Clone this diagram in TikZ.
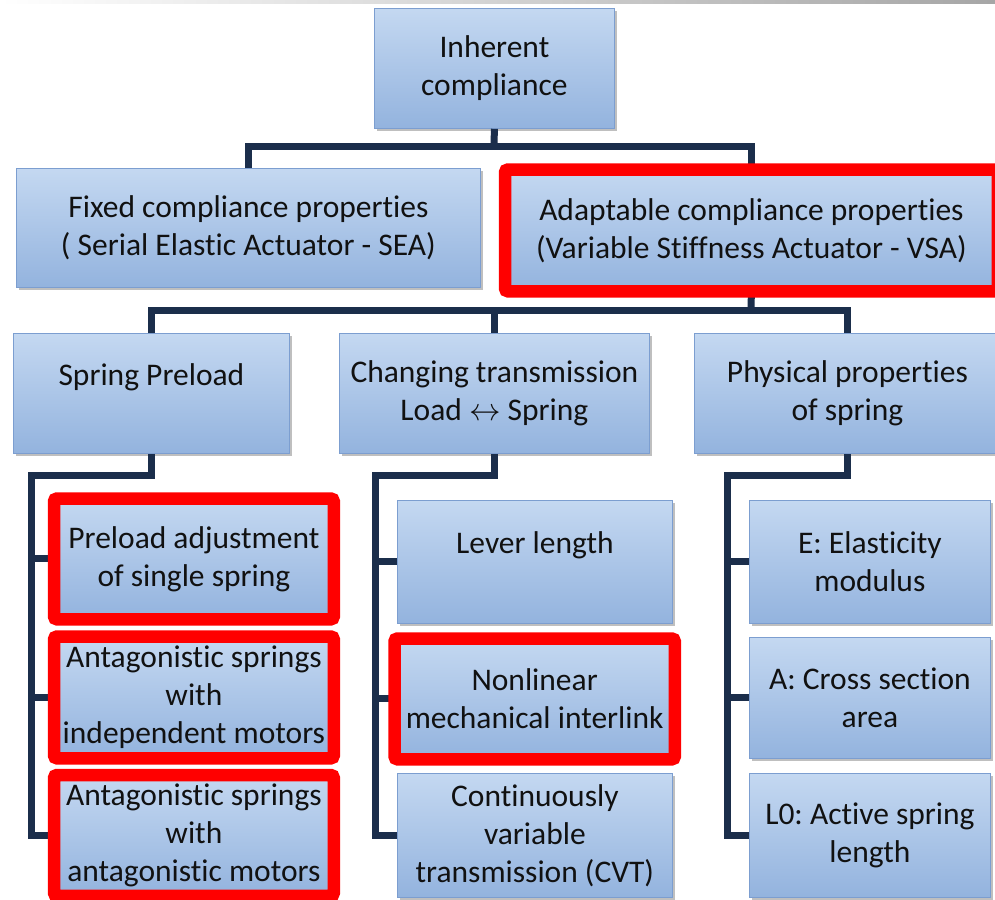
\RequirePackage{fix-cm}
\documentclass[tikz,border=0pt]{standalone}
\usepackage{fontspec}
\setmainfont[Ligatures={NoCommon,NoContextual}]{Carlito}
\usetikzlibrary{shadows,calc}
\frenchspacing
\definecolor{boxtop}{HTML}{C4D8F1}
\definecolor{boxbot}{HTML}{93B3DE}
\definecolor{boxline}{HTML}{7C9ED0}
\definecolor{connc}{HTML}{1B2E4B}
\definecolor{redc}{HTML}{FF0000}
\definecolor{txt}{HTML}{111111}
\tikzset{
  box/.style={draw=boxline, line width=0.8pt, top color=boxtop, bottom color=boxbot,
    drop shadow={shadow xshift=3pt, shadow yshift=-3pt, fill=black, opacity=0.25},
    align=center, text=txt, inner sep=0pt,
    font=\fontsize{31.5}{38}\selectfont},
  conn/.style={draw=connc, line width=7pt},
  redframe/.style={draw=redc, line width=12.5pt, rounded corners=3pt},
}
\newcommand{\mkbox}[6]{%
  \node[box, anchor=north west, minimum width=#3-#2, minimum height=#5-#4] (#1) at (#2,#4) {#6};}
\begin{document}
\begin{tikzpicture}[x=1pt,y=-1pt]
\useasboundingbox (0,0) rectangle (995,899);
\fill[white] (0,0) rectangle (995,899);
\shade[left color=white, right color=black!35] (0,0) rectangle (995,4);

% boxes
\mkbox{root}{374}{614}{8}{128}{Inherent\\compliance}
\mkbox{fixed}{16}{480}{168}{287}{Fixed compliance properties\\( Serial Elastic Actuator - SEA)}
\mkbox{adapt}{505}{997}{169.5}{290.5}{Adaptable compliance properties\\(Variable Stiffness Actuator - VSA)}

\mkbox{sp}{13}{289}{333}{453}{Spring Preload\\ ~}
\mkbox{cp}{339}{649}{333}{453}{Changing transmission\\Load $\leftrightarrow$ Spring}
\mkbox{phys}{694}{1000}{333}{453}{Physical properties\\of spring}

\mkbox{pa}{54}{333}{498.5}{618.5}{Preload adjustment\\of single spring}
\mkbox{ai}{54}{333}{636.5}{757.5}{Antagonistic springs\\with\\independent motors}
\mkbox{aa}{54}{333}{775}{895}{Antagonistic springs\\with\\antagonistic motors}

\mkbox{lever}{397}{672}{500}{623}{Lever length\\ ~}
\mkbox{nl}{394.5}{674}{638.5}{758.5}{Nonlinear\\mechanical interlink}
\mkbox{cvt}{397}{672}{773}{897}{Continuously\\variable\\transmission (CVT)}

\mkbox{ee}{749}{990}{500}{623}{E: Elasticity\\modulus}
\mkbox{area}{749}{990}{637}{758}{A: Cross section\\area}
\mkbox{lz}{749}{990}{773}{897}{L0: Active spring\\length}

% connectors
\coordinate (bar1) at (494,146);
\draw[conn] (root.south) -- (bar1);
\draw[conn] (fixed.north) |- (bar1) -| (adapt.north);

\coordinate (bar2) at (751,310);
\draw[conn] (adapt.south) -- (bar2);
\draw[conn] (sp.north) |- (bar2) -| (phys.north);
\draw[conn] (cp.north) -- (cp.north |- bar2);

\coordinate (spv) at (31,475);
\draw[conn] (sp.south) |- (spv) |- (aa.west);
\draw[conn] (spv |- pa.west) -- (pa.west);
\draw[conn] (spv |- ai.west) -- (ai.west);

\coordinate (cpv) at (375,475);
\draw[conn] (cp.south) |- (cpv) |- (cvt.west);
\draw[conn] (cpv |- lever.west) -- (lever.west);
\draw[conn] (cpv |- nl.west) -- (nl.west);

\coordinate (pv) at (727,475);
\draw[conn] (phys.south) |- (pv) |- (lz.west);
\draw[conn] (pv |- ee.west) -- (ee.west);
\draw[conn] (pv |- area.west) -- (area.west);

% red highlight frames
\draw[redframe] (adapt.north west) rectangle (adapt.south east);
\draw[redframe] (pa.north west) rectangle (pa.south east);
\draw[redframe] (ai.north west) rectangle (ai.south east);
\draw[redframe] (aa.north west) rectangle (aa.south east);
\draw[redframe] (nl.north west) rectangle (nl.south east);
\end{tikzpicture}
\end{document}
